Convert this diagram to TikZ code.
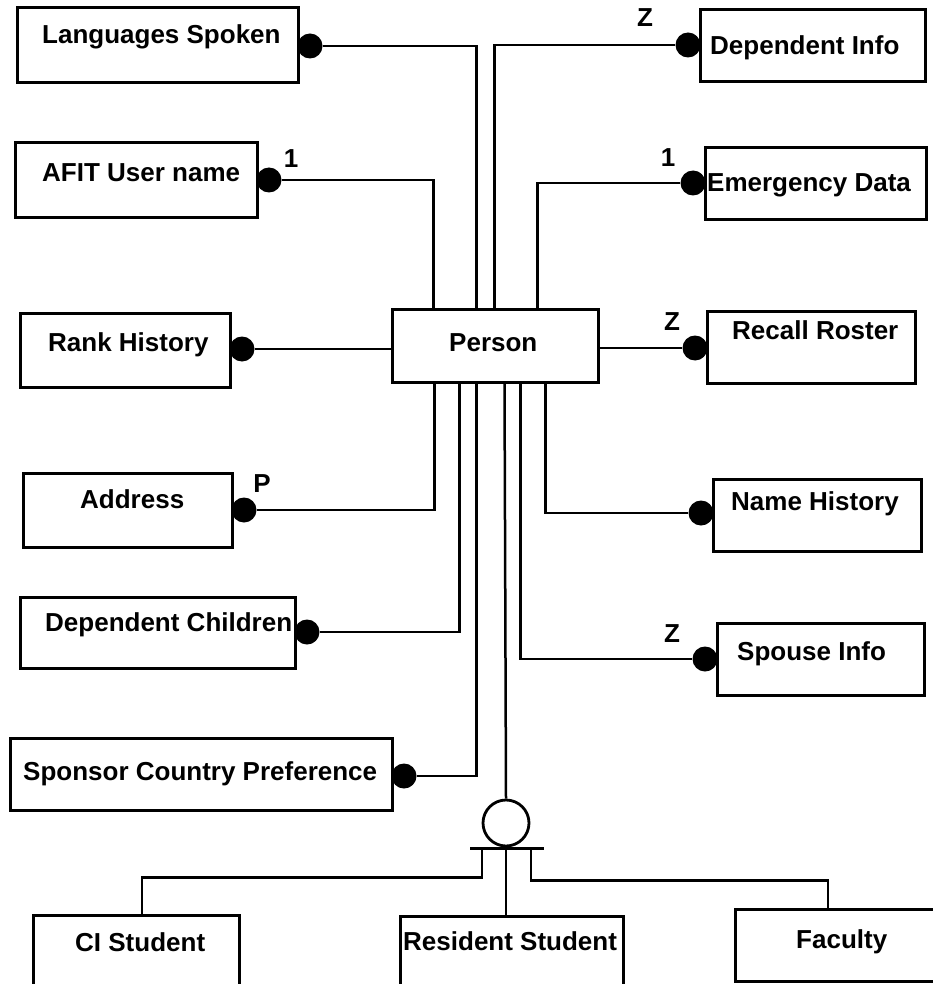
\documentclass[tikz,border=0pt]{standalone}
\usepackage{fontspec}
\setmainfont{Liberation Sans}
\begin{document}
\begin{tikzpicture}[x=1pt,y=-1pt,
  box/.style={draw, line width=3pt, inner sep=0pt},
  conn/.style={draw, line width=2.5pt},
  dot/.style={circle, fill=black, inner sep=0pt, minimum size=25pt},
  lbl/.style={inner sep=0pt, anchor=base west, font=\fontsize{26}{30}\selectfont\bfseries},
  mult/.style={inner sep=0pt, anchor=base, font=\fontsize{26}{30}\selectfont\bfseries},
  bar/.style={draw, line width=3.5pt}]
\clip (0,0) rectangle (933,984);
\fill[white] (0,0) rectangle (933,984);
% boxes
\node[box, minimum width=281pt, minimum height=75pt] (lang) at (157.5,45.5) {};
\node[box, minimum width=242pt, minimum height=75pt] (afit) at (136,180.5) {};
\node[box, minimum width=210pt, minimum height=74pt] (rank) at (125,350) {};
\node[box, minimum width=209pt, minimum height=74pt] (addr) at (127.5,510) {};
\node[box, minimum width=275pt, minimum height=71pt] (depch) at (157.5,632.5) {};
\node[box, minimum width=382pt, minimum height=72pt] (spons) at (201,774) {};
\node[box, minimum width=225pt, minimum height=72pt] (depinfo) at (812.5,46) {};
\node[box, minimum width=221pt, minimum height=72pt] (emerg) at (815.5,184) {};
\node[box, minimum width=208pt, minimum height=72pt] (recall) at (811,347) {};
\node[box, minimum width=208pt, minimum height=72pt] (namehist) at (817,515) {};
\node[box, minimum width=207pt, minimum height=72pt] (spouse) at (820.5,659) {};
\node[box, minimum width=206pt, minimum height=73pt] (person) at (495,345.5) {};
\node[box, minimum width=206pt, minimum height=80pt] (ci) at (136,955) {};
\node[box, minimum width=223pt, minimum height=79pt] (resident) at (511.5,955.5) {};
\node[box, minimum width=210pt, minimum height=72pt] (faculty) at (840,945) {};
% texts
\node[lbl] (tlang) at (42,44) {Languages Spoken};
\node[lbl] (tafit) at (42,182) {AFIT User name};
\node[lbl] (trank) at (48,351) {Rank History};
\node[lbl] (taddr) at (80,508) {Address};
\node[lbl] (tdepch) at (45,631) {Dependent Children};
\node[lbl] (tspons) at (23,780) {Sponsor Country Preference};
\node[lbl] (tdepinfo) at (710,55) {Dependent Info};
\node[lbl] (temerg) at (707,192) {Emergency Data};
\node[lbl] (trecall) at (732,339) {Recall Roster};
\node[lbl] (tnamehist) at (731,510) {Name History};
\node[lbl] (tspouse) at (737,660) {Spouse Info};
\node[lbl] (tperson) at (449,351) {Person};
\node[lbl] (tci) at (75,951) {CI Student};
\node[lbl] (tresident) at (403,950) {Resident Student};
\node[lbl] (tfaculty) at (796,948) {Faculty};
% multiplicities
\node[mult] (m1) at (645,27) {Z};
\node[mult] (m2) at (668,167) {1};
\node[mult] (m3) at (291,168) {1};
\node[mult] (m4) at (672,330) {Z};
\node[mult] (m5) at (262,492) {P};
\node[mult] (m6) at (672,642) {Z};
% dots
\node[dot] (dlang) at (310,46) {};
\node[dot] (dafit) at (269,180) {};
\node[dot] (drank) at (242,349) {};
\node[dot] (daddr) at (244,510) {};
\node[dot] (ddepch) at (307,632) {};
\node[dot] (dspons) at (404,776) {};
\node[dot] (ddepinfo) at (688,45) {};
\node[dot] (demerg) at (693,183) {};
\node[dot] (drecall) at (695,348) {};
\node[dot] (dnamehist) at (701,513) {};
\node[dot] (dspouse) at (705,659) {};
% subtype circle
\node[draw, circle, line width=2.8pt, inner sep=0pt, minimum size=46pt] (isa) at (506,823) {};
% connectors
\draw[conn] (dlang) -| ([xshift=86pt]person.north west);
\draw[conn] (dafit) -| ([xshift=43pt]person.north west);
\draw[conn] (ddepinfo) -| ([xshift=104pt]person.north west);
\draw[conn] (demerg) -| ([xshift=147pt]person.north west);
\draw[conn] (drank) -- (drank -| person.west);
\draw[conn] (drecall -| person.east) -- (drecall);
\draw[conn] ([xshift=44pt]person.south west) |- (daddr);
\draw[conn] ([xshift=69pt]person.south west) |- (ddepch);
\draw[conn] ([xshift=86pt]person.south west) |- (dspons);
\draw[conn] ([xshift=114pt]person.south west) -- (isa.north);
\draw[conn] ([xshift=130pt]person.south west) |- (dspouse);
\draw[conn] ([xshift=155pt]person.south west) |- (dnamehist);
\draw[bar] ([xshift=-36pt,yshift=-1pt]isa.south) -- ([xshift=38pt,yshift=-1pt]isa.south);
\draw[conn] ([xshift=-24pt,yshift=-1pt]isa.south) -- ++(0,29) -| ([xshift=6pt]ci.north);
\draw[conn] (isa.south) -- (isa.south |- resident.north);
\draw[conn] ([xshift=25pt,yshift=-1pt]isa.south) -- ++(0,32) -| ([xshift=-12pt]faculty.north);
\end{tikzpicture}
\end{document}
